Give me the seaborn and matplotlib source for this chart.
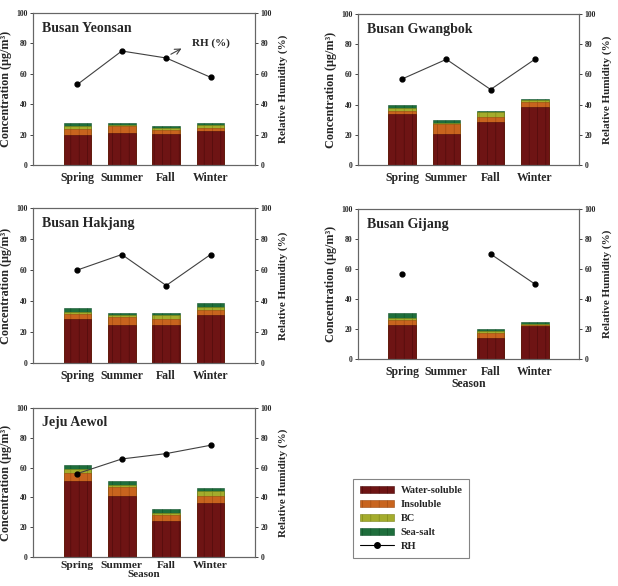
import numpy as np
import pandas as pd
import seaborn as sns
import matplotlib.pyplot as plt
from matplotlib.patches import Patch
from matplotlib.lines import Line2D

seasons = ['Spring', 'Summer', 'Fall', 'Winter']
sites = ['Busan Yeonsan', 'Busan Gwangbok', 'Busan Hakjang', 'Busan Gijang', 'Jeju Aewol']

# component concentrations (ug/m3), one row per site
water_soluble = [[20.0, 21.0, 20.6, 22.4],
                 [34.0, 20.3, 28.6, 38.3],
                 [28.2, 24.3, 24.7, 30.8],
                 [22.9, np.nan, 14.0, 21.8],
                 [50.8, 41.0, 24.0, 36.5]]
insoluble = [[4.0, 4.7, 2.2, 2.2],
             [2.0, 6.7, 3.1, 3.1],
             [3.2, 5.7, 3.9, 3.2],
             [3.3, np.nan, 3.5, 1.1],
             [5.8, 5.8, 4.4, 4.5]]
bc = [[1.5, 0.8, 1.7, 1.4],
      [1.7, 1.0, 3.3, 1.6],
      [1.3, 1.0, 2.2, 2.0],
      [1.3, np.nan, 1.5, 0.6],
      [2.4, 1.2, 1.4, 3.0]]
sea_salt = [[2.1, 1.1, 1.4, 1.9],
            [2.3, 2.0, 1.0, 1.0],
            [3.0, 1.5, 1.2, 2.5],
            [2.9, np.nan, 1.0, 1.1],
            [3.0, 2.8, 2.2, 2.0]]
# relative humidity (%)
rh = [[53, 75, 70.4, 57.7],
      [57, 70, 50, 70],
      [60, 70, 50, 70],
      [57, np.nan, 70, 50],
      [56, 65.8, 69.4, 75]]

components = ['Water-soluble', 'Insoluble', 'BC', 'Sea-salt']
colors = ['#6e1414', '#c8641e', '#a4ac2c', '#1e6e3c']
edges = ['#4a0a0a', '#9a4810', '#7a8218', '#10502a']

sns.set_style('white')
plt.rcParams['font.family'] = ['Liberation Serif', 'DejaVu Serif']
plt.rcParams['font.weight'] = 'bold'
plt.rcParams['hatch.linewidth'] = 0.4

W, H = 618, 586
fig = plt.figure(figsize=(W / 100, H / 100), dpi=100)

# axes boxes in pixels: left, right, top, bottom
boxes = [(33, 255, 13, 165), (358, 579, 14, 165),
         (33, 255, 208, 363), (358, 579, 209, 359),
         (33, 255, 408, 557)]

for i, site in enumerate(sites):
    l, r, t, b = boxes[i]
    ax = fig.add_axes([l / W, 1 - b / H, (r - l) / W, (b - t) / H])
    df = pd.DataFrame({'Season': seasons, 'Water-soluble': water_soluble[i],
                       'Insoluble': insoluble[i], 'BC': bc[i], 'Sea-salt': sea_salt[i]})
    cum = df[components].cumsum(axis=1)
    cum['Season'] = df['Season']
    # draw from top of the stack downwards so each layer overlaps the one above
    for j in range(3, -1, -1):
        sns.barplot(data=cum, x='Season', y=components[j], order=seasons, ax=ax,
                    color=colors[j], width=0.62, saturation=1, edgecolor=edges[j],
                    linewidth=0.4, hatch='||', errorbar=None)
    ax.set_xlim(-1, 4)
    ax.set_ylim(0, 100)
    ax.set_yticks(range(0, 101, 20))
    ax.tick_params(axis='y', labelsize=5.5, length=2, width=0.6, pad=2, direction='out')
    if i == 4:
        ax.tick_params(axis='x', labelsize=8.2, length=0, pad=3)
    else:
        ax.tick_params(axis='x', labelsize=8.5, length=0, pad=5)
    for sp in ax.spines.values():
        sp.set_color('#666666')
        sp.set_linewidth(0.8)
    ax.set_ylabel('Concentration (μg/m³)', fontsize=8.7, fontweight='bold', labelpad=3)
    if i == 3:
        ax.set_xlabel('Season', fontsize=8.5, fontweight='bold', labelpad=0)
    elif i == 4:
        ax.set_xlabel('Season', fontsize=8, fontweight='bold', labelpad=0)
    else:
        ax.set_xlabel('')
    ax.text(0.04, 0.9, site, transform=ax.transAxes, fontsize=10,
            fontweight='bold', va='center', ha='left')

    ax2 = ax.twinx()
    ax2.plot(range(4), rh[i], color='#404040', lw=0.8, marker='o',
             markersize=3.5, markerfacecolor='black', markeredgecolor='black')
    ax2.set_ylim(0, 100)
    ax2.set_yticks(range(0, 101, 20))
    ax2.tick_params(axis='y', labelsize=5.5, length=2, width=0.6, pad=2)
    ax2.set_ylabel('Relative Humidity (%)', fontsize=8, fontweight='bold', labelpad=5)
    for sp in ax2.spines.values():
        sp.set_color('#666666')
        sp.set_linewidth(0.8)
    if i == 0:
        ax2.annotate('RH (%)', xy=(2.4, 77.5), xytext=(2.57, 80),
                     fontsize=8, fontweight='bold', va='center', ha='left')
        ax2.annotate('', xy=(2.4, 77.5), xytext=(2.05, 72),
                     arrowprops=dict(arrowstyle='->', color='#404040', lw=0.8))

handles = [Patch(facecolor=c, edgecolor=e, hatch='||', linewidth=0.4, label=n)
           for c, e, n in zip(colors, edges, components)]
handles.append(Line2D([0], [0], color='black', lw=0.8, marker='o', markersize=4, label='RH'))
leg = fig.legend(handles=handles, loc='upper left', bbox_to_anchor=(353 / W, 1 - 479 / H),
                 fontsize=7.5, frameon=True, fancybox=False, handlelength=3.3,
                 handleheight=0.7, labelspacing=0.45, borderpad=0.65, handletextpad=0.6,
                 borderaxespad=0)
leg.get_frame().set_edgecolor('#666666')
leg.get_frame().set_linewidth(0.8)
for txt in leg.get_texts():
    txt.set_fontweight('bold')

fig.savefig('out.png', dpi=100)
